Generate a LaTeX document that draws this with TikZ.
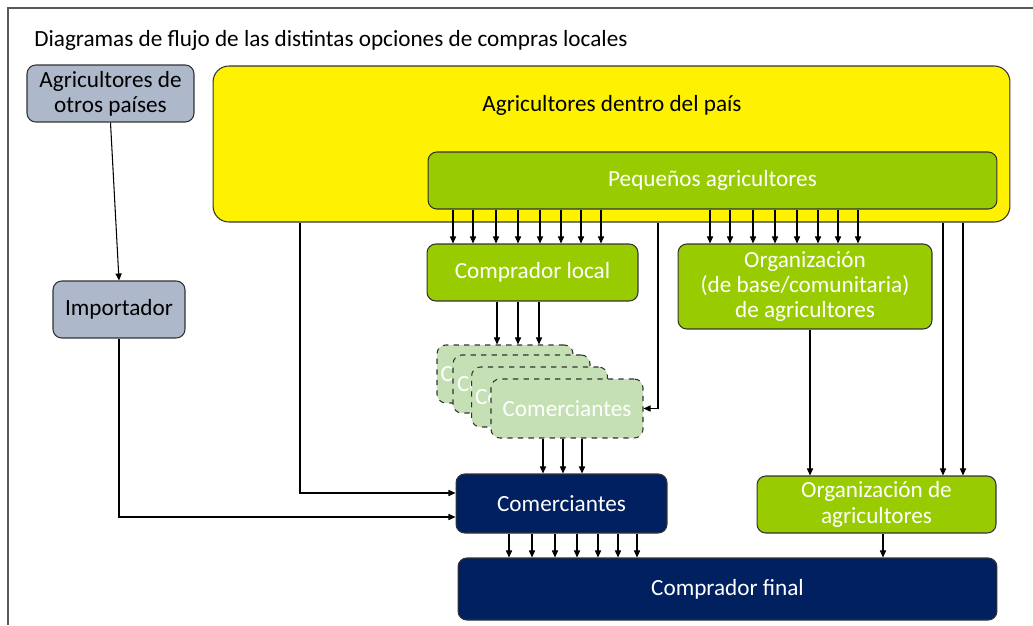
\documentclass[tikz,border=0pt]{standalone}
\usepackage{fontspec}
\setmainfont{Carlito}
\usetikzlibrary{arrows.meta}
\definecolor{grayblue}{HTML}{ADB9CA}
\definecolor{leaf}{HTML}{99CC00}
\definecolor{paleleaf}{HTML}{C5E0B4}
\definecolor{navy}{HTML}{002060}
\definecolor{framegray}{HTML}{595959}
\begin{document}
\begin{tikzpicture}[x=0.02cm, y=-0.02cm,
    font=\fontsize{13.2}{14.4}\selectfont,
    box/.style={rectangle, rounded corners=5pt, draw=black!80, line width=0.6pt, align=center, inner sep=2pt},
    graybox/.style={box, fill=grayblue, minimum height=1.14cm},
    greenbox/.style={box, fill=leaf, text=white},
    navybox/.style={box, fill=navy, text=white},
    cardbox/.style={box, dashed, fill=paleleaf, text=white},
    arr/.style={-{Triangle[length=4pt,width=3.5pt]}, line width=0.6pt}]
    \useasboundingbox (0,0) rectangle (1033,625);
    \draw[framegray, line width=1.1pt] (8,625) -- (8,8) -- (1033,8);

    % Title
    \node[anchor=west, inner sep=0pt] (title) at (34,40) {Diagramas de flujo de las distintas opciones de compras locales};

    % Farmers abroad
    \node[graybox, minimum width=3.34cm] (otros) at (110.5,93.5) {Agricultores de\\otros países};
    \node[graybox, minimum width=2.64cm] (imp) at (119,309.5) {Importador};

    % Farmers in the country
    \node[box, fill=yellow, rounded corners=9pt, minimum width=15.94cm, minimum height=3.12cm] (yel) at (611.5,144) {};
    \node (dentro) at (612,105) {Agricultores dentro del país};
    \node[greenbox, minimum width=11.38cm, minimum height=1.14cm] (peq) at (712.5,180.5) {Pequeños agricultores};

    % Buyers
    \node[greenbox, minimum width=4.22cm, minimum height=1.14cm] (cl) at (532.5,272.5) {Comprador local};
    \node[greenbox, minimum width=5.08cm, minimum height=1.7cm] (orgb) at (805,286.5) {Organización\\(de base/comunitaria)\\de agricultores};

    % Traders (stack)
    \node[cardbox, minimum width=2.72cm, minimum height=1.16cm] (c1) at (505,374) {Comerciantes};
    \node[cardbox, minimum width=2.74cm, minimum height=1.16cm] (c2) at (521.5,384) {Comerciantes};
    \node[cardbox, minimum width=2.70cm, minimum height=1.20cm] (c3) at (539.5,397) {Comerciantes};
    \node[cardbox, minimum width=3.04cm, minimum height=1.18cm] (c4) at (567,408.5) {Comerciantes};

    \node[navybox, minimum width=4.22cm, minimum height=1.18cm] (com) at (561.5,503.5) {Comerciantes};
    \node[greenbox, minimum width=4.78cm, minimum height=1.14cm] (orga) at (876.5,504.5) {Organización de\\agricultores};
    \node[navybox, minimum width=10.78cm, minimum height=1.24cm] (fin) at (727.5,589) {Comprador final};

    % Connections
    \draw[arr] (otros.south) -- (imp.north);
    \draw[arr] (imp.south) |- ([yshift=-0.27cm]com.west);
    \draw[arr] (yel.south -| 300,0) |- ([yshift=0.21cm]com.west);
    \draw[arr] (yel.south -| 658,0) |- (c4.east);
    \foreach \x in {453,473,496,518,540,561,581,601}
        \draw[arr] (peq.south -| \x,0) -- (cl.north -| \x,0);
    \foreach \x in {710,730,753,775,797,818,838,858}
        \draw[arr] (peq.south -| \x,0) -- (orgb.north -| \x,0);
    \foreach \x in {497,518,539}
        \draw[arr] (cl.south -| \x,0) -- (c1.north -| \x,0);
    \foreach \x in {543,563,582}
        \draw[arr] (c4.south -| \x,0) -- (com.north -| \x,0);
    \foreach \x in {509,532,555,577,598,618,637}
        \draw[arr] (com.south -| \x,0) -- (fin.north -| \x,0);
    \draw[arr] (orgb.south -| 810,0) -- (orga.north -| 810,0);
    \draw[arr] (yel.south -| 943,0) -- (orga.north -| 943,0);
    \draw[arr] (yel.south -| 963,0) -- (orga.north -| 963,0);
    \draw[arr] (orga.south -| 883,0) -- (fin.north -| 883,0);
\end{tikzpicture}
\end{document}
